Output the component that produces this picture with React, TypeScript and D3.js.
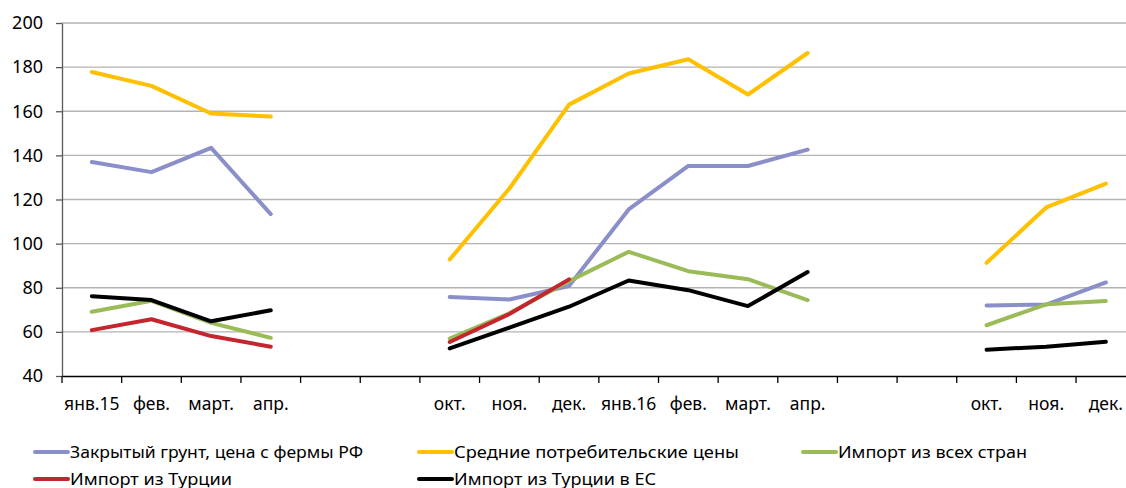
import React, { useRef, useEffect } from "react";
import { select, scaleBand, scaleLinear, line, axisLeft, axisBottom } from "d3";

// categories (blank ones are months with no data)
const months = [
  "янв.15", "фев.", "март.", "апр.", "", "",
  "окт.", "ноя.", "дек.", "янв.16", "фев.", "март.", "апр.", "", "",
  "окт.", "ноя.", "дек.",
];

const greenhouseFarm = [137, 132.4, 143.4, 113.4, null, null, 75.8, 74.7, 80.8, 115.5, 135.2, 135.2, 142.6, null, null, 72, 72.4, 82.4];
const consumerPrices = [177.8, 171.5, 159, 157.6, null, null, 92.8, 125, 163, 177.1, 183.6, 167.6, 186.4, null, null, 91.3, 116.4, 127.2];
const importAll = [69.1, 74.1, 64.1, 57.3, null, null, 57, 68.4, 83, 96.3, 87.5, 83.9, 74.4, null, null, 63, 72.5, 74];
const importTurkey = [60.8, 65.7, 58.1, 53.3, null, null, 55.4, 68.1, 83.8, null, null, null, null, null, null, null, null, null];
const importTurkeyEU = [76.2, 74.4, 64.8, 69.8, null, null, 52.5, 61.9, 71.4, 83.3, 78.9, 71.7, 87.1, null, null, 51.9, 53.3, 55.5];

const yTicks = [40, 60, 80, 100, 120, 140, 160, 180, 200];

const series = [
  { name: "Закрытый грунт, цена с фермы РФ", values: greenhouseFarm, color: "#8b8fc9" },
  { name: "Средние потребительские цены", values: consumerPrices, color: "#ffc000" },
  { name: "Импорт из всех стран", values: importAll, color: "#9bbb59" },
  { name: "Импорт из Турции", values: importTurkey, color: "#c3262e" },
  { name: "Импорт из Турции в ЕС", values: importTurkeyEU, color: "#000000" },
];

// legend placement: column x, row y, text width
const legendPos = [
  { x: 35, y: 452, w: 293 },
  { x: 419, y: 452, w: 285 },
  { x: 803, y: 452, w: 189 },
  { x: 35, y: 479, w: 162 },
  { x: 419, y: 479, w: 202 },
];

const FONT = "'Noto Sans', 'Open Sans', sans-serif";

function App() {
  const svgRef = useRef<SVGSVGElement>(null);

  useEffect(() => {
    const svg = select(svgRef.current);
    svg.selectAll("*").remove();

    const left = 62, top = 23, bottom = 376;
    const step = 59.65;

    const xScale = scaleBand<number>()
      .domain(months.map((m, i) => i))
      .range([left, left + step * months.length]);

    const yScale = scaleLinear().domain([40, 200]).range([bottom, top]);

    // gridlines
    svg.append("g")
      .selectAll("line")
      .data(yTicks.filter(t => t > 40))
      .join("line")
      .attr("x1", left)
      .attr("x2", left + step * months.length)
      .attr("y1", d => yScale(d))
      .attr("y2", d => yScale(d))
      .attr("stroke", "#b3b3b3")
      .attr("stroke-width", 1.3);

    // y axis
    const yAxis = svg.append("g")
      .attr("transform", `translate(${left},0)`)
      .call(axisLeft(yScale).tickValues(yTicks).tickSize(6).tickPadding(13).tickSizeOuter(0));
    yAxis.select(".domain").attr("stroke", "#595959").attr("stroke-width", 1.3);
    yAxis.selectAll(".tick line").attr("stroke", "#595959").attr("stroke-width", 1.3);
    yAxis.selectAll("text")
      .attr("font-family", FONT)
      .attr("font-size", 18)
      .attr("fill", "#000");

    // x axis
    const xAxis = svg.append("g")
      .attr("transform", `translate(0,${bottom})`)
      .call(axisBottom(xScale).tickFormat(i => months[i as number]).tickSize(0).tickPadding(0));
    xAxis.select(".domain").attr("stroke", "#000").attr("stroke-width", 1.5);
    xAxis.selectAll("text")
      .attr("font-family", FONT)
      .attr("font-size", 17.5)
      .attr("fill", "#000")
      .attr("dy", null)
      .attr("y", 34);

    // tick marks between categories
    svg.append("g")
      .selectAll("line")
      .data(months.map((m, i) => i))
      .join("line")
      .attr("x1", d => xScale(d)!)
      .attr("x2", d => xScale(d)!)
      .attr("y1", bottom)
      .attr("y2", bottom + 7)
      .attr("stroke", "#000")
      .attr("stroke-width", 1.3);

    // lines
    const lineGen = line<number | null>()
      .defined(d => d != null)
      .x((d, i) => xScale(i)! + xScale.bandwidth() / 2)
      .y(d => yScale(d as number));

    svg.append("g")
      .selectAll("path")
      .data(series)
      .join("path")
      .attr("d", s => lineGen(s.values))
      .attr("fill", "none")
      .attr("stroke", s => s.color)
      .attr("stroke-width", 4)
      .attr("stroke-linejoin", "round")
      .attr("stroke-linecap", "round");

    // legend
    const legend = svg.append("g")
      .selectAll("g")
      .data(series)
      .join("g")
      .attr("transform", (s, i) => `translate(${legendPos[i].x},${legendPos[i].y})`);

    legend.append("line")
      .attr("x1", 0)
      .attr("x2", 33)
      .attr("stroke", s => s.color)
      .attr("stroke-width", 4)
      .attr("stroke-linecap", "round");

    legend.append("text")
      .attr("x", 35)
      .attr("dy", "0.35em")
      .attr("font-family", FONT)
      .attr("font-size", 17)
      .attr("textLength", (s, i) => legendPos[i].w)
      .attr("lengthAdjust", "spacingAndGlyphs")
      .text(s => s.name);
  }, []);

  return (
    <svg ref={svgRef} width={1126} height={488}
      style={{ position: "absolute", left: 0, top: 0, background: "#fff" }} />
  );
}

export default App;
